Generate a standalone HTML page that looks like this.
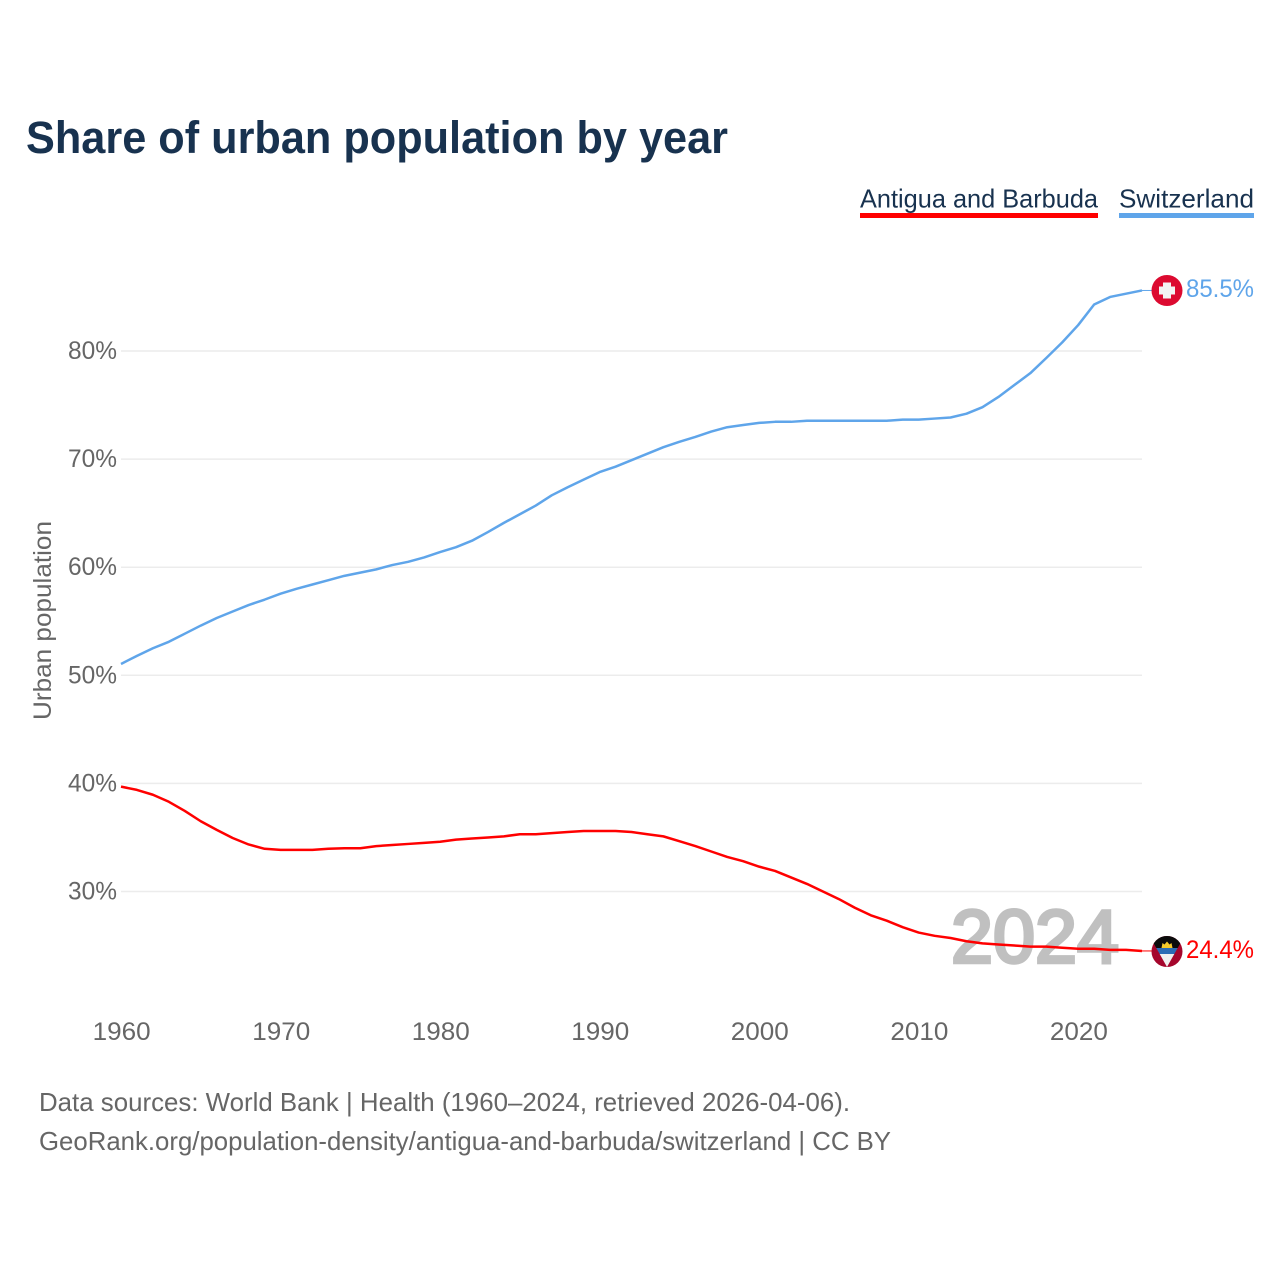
<!DOCTYPE html>
<html lang="en">
<head>
<meta charset="utf-8">
<title>Share of urban population by year</title>
<style>
html,body{margin:0;padding:0;background:#fff;}
svg{display:block;font-family:"Liberation Sans",sans-serif;}
</style>
</head>
<body>
<svg id="chart" xmlns="http://www.w3.org/2000/svg" width="1280" height="1280" viewBox="0 0 1280 1280">
  <rect width="1280" height="1280" fill="#fff"/>
  <text x="26" y="153" font-size="45" font-weight="700" fill="#18324f" textLength="702" lengthAdjust="spacingAndGlyphs">Share of urban population by year</text>
  <g>
    <g>
      <text x="860" y="207.5" font-size="26" fill="#18324f" textLength="238" lengthAdjust="spacingAndGlyphs">Antigua and Barbuda</text>
      <rect x="860" y="213" width="238" height="5" fill="#ff0000"/>
    </g>
    <g>
      <text x="1119" y="207.5" font-size="26" fill="#18324f" textLength="135" lengthAdjust="spacingAndGlyphs">Switzerland</text>
      <rect x="1119" y="213" width="135" height="5" fill="#5fa5ea"/>
    </g>
  </g>
  <text transform="translate(51,720) rotate(-90)" font-size="25" fill="#666" textLength="199" lengthAdjust="spacingAndGlyphs">Urban population</text>
  <g id="grid"></g>
  <g id="yticks"></g>
  <g id="xticks"></g>
  <text x="951" y="962.5" font-size="75" font-weight="400" fill="#c0c0c0" stroke="#c0c0c0" stroke-width="3.4" textLength="168" lengthAdjust="spacingAndGlyphs">2024</text>
  <g id="lines"></g>

  <g id="flag-ch">
    <circle cx="1167" cy="290.5" r="15.5" fill="#dc0a30"/>
    <rect x="1163" y="282.5" width="8" height="16" fill="#f3f3f3"/>
    <rect x="1159" y="286.5" width="16" height="8" fill="#f3f3f3"/>
  </g>
  <g id="flag-ag">
    <defs><clipPath id="ag-clip"><circle cx="1167" cy="951.5" r="15.5"/></clipPath></defs>
    <g clip-path="url(#ag-clip)">
      <rect x="1151" y="936" width="32" height="31" fill="#a5062c"/>
      <polygon points="1149.5,936 1184.5,936 1177.7,948 1156.3,948" fill="#0b0b0b"/>
      <polygon points="1156.3,948 1177.7,948 1174.3,954 1159.7,954" fill="#2b6cb5"/>
      <polygon points="1159.7,954 1174.3,954 1167,967" fill="#f0f0f0"/>
      <path d="M1161.5 948 L1162.5 943 L1164.5 944.5 L1167 941.5 L1169.5 944.5 L1171.5 943 L1172.5 948 Z" fill="#f5c92a"/>
    </g>
  </g>
  <text id="label-ch" x="1186" y="297" font-size="25" fill="#5fa5ea" textLength="68" lengthAdjust="spacingAndGlyphs"></text>
  <text id="label-ag" x="1186" y="958" font-size="25" fill="#ff0000" textLength="68" lengthAdjust="spacingAndGlyphs"></text>

  <text x="39" y="1111" font-size="26" fill="#666" textLength="811" lengthAdjust="spacingAndGlyphs">Data sources: World Bank | Health (1960–2024, retrieved 2026-04-06).</text>
  <a><text x="39" y="1150" font-size="26" fill="#666" textLength="852" lengthAdjust="spacingAndGlyphs">GeoRank.org/population-density/antigua-and-barbuda/switzerland | CC BY</text></a>
</svg>
<script>
const startYear = 1960;
const switzerland = [51.05,51.8,52.5,53.1,53.85,54.6,55.3,55.9,56.5,57.0,57.55,58.0,58.4,58.8,59.2,59.5,59.8,60.2,60.5,60.9,61.4,61.85,62.45,63.25,64.1,64.9,65.7,66.65,67.4,68.1,68.8,69.3,69.9,70.5,71.1,71.6,72.05,72.55,72.95,73.15,73.35,73.45,73.45,73.55,73.55,73.55,73.55,73.55,73.55,73.65,73.65,73.75,73.85,74.2,74.8,75.75,76.85,77.95,79.35,80.8,82.4,84.3,85.0,85.3,85.6];
const antigua = [39.7,39.4,38.95,38.3,37.45,36.5,35.7,34.95,34.35,33.95,33.85,33.85,33.85,33.95,34.0,34.0,34.2,34.3,34.4,34.5,34.6,34.8,34.9,35.0,35.1,35.3,35.3,35.4,35.5,35.6,35.6,35.6,35.5,35.3,35.1,34.65,34.2,33.7,33.2,32.8,32.3,31.9,31.3,30.7,30.0,29.3,28.5,27.8,27.3,26.7,26.2,25.9,25.7,25.4,25.2,25.1,25.0,24.9,24.9,24.8,24.7,24.7,24.6,24.6,24.5];
const yTicks = [30,40,50,60,70,80];
const xTicks = [1960,1970,1980,1990,2000,2010,2020];
const lastValueLabels = ["85.5%","24.4%"];

const NS = 'http://www.w3.org/2000/svg';
function xScale(year){ return 121 + (year - 1960) * (1142 - 121) / 64; }
function yScale(v){ return 351 + (80 - v) * (891.5 - 351) / 50; }

const grid = document.getElementById('grid');
const yt = document.getElementById('yticks');
yTicks.forEach(function(t){
  const l = document.createElementNS(NS,'line');
  
  
  l.setAttribute('x1', 121);
  l.setAttribute('x2', 1142);
  l.setAttribute('y1', yScale(t));
  l.setAttribute('y2', yScale(t));
  l.setAttribute('stroke', '#ececec');
  l.setAttribute('stroke-width', '1.5');
  grid.appendChild(l);
  const s = document.createElementNS(NS,'text');
  
  
  s.setAttribute('x', 117);
  s.setAttribute('y', yScale(t) + 8);
  s.setAttribute('text-anchor', 'end');
  s.setAttribute('font-size', '25');
  s.setAttribute('fill', '#666');
  s.setAttribute('textLength', '49');
  s.setAttribute('lengthAdjust', 'spacingAndGlyphs');
  s.textContent = t + '%';
  yt.appendChild(s);
});

const xt = document.getElementById('xticks');
xTicks.forEach(function(t){
  const s = document.createElementNS(NS,'text');
  
  
  s.setAttribute('x', xScale(t) + 0.7);
  s.setAttribute('y', 1040);
  s.setAttribute('text-anchor', 'middle');
  s.setAttribute('font-size', '25');
  s.setAttribute('fill', '#666');
  s.setAttribute('textLength', '58');
  s.setAttribute('lengthAdjust', 'spacingAndGlyphs');
  s.textContent = t;
  xt.appendChild(s);
});

function seriesPath(values){
  return values.map(function(v,i){
    return (i ? 'L' : 'M') + xScale(startYear + i).toFixed(2) + ' ' + yScale(v).toFixed(2);
  }).join(' ');
}
const lines = document.getElementById('lines');

const swissLine = document.createElementNS(NS,'path');


swissLine.setAttribute('d', seriesPath(switzerland));
swissLine.setAttribute('fill', 'none');
swissLine.setAttribute('stroke', '#5fa5ea');
swissLine.setAttribute('stroke-width', '2.5');
swissLine.setAttribute('stroke-linejoin', 'round');
lines.appendChild(swissLine);

const swissLeader = document.createElementNS(NS,'line');


swissLeader.setAttribute('x1', xScale(2024));
swissLeader.setAttribute('x2', 1152);
swissLeader.setAttribute('y1', yScale(switzerland[switzerland.length - 1]));
swissLeader.setAttribute('y2', yScale(switzerland[switzerland.length - 1]));
swissLeader.setAttribute('stroke', '#5fa5ea');
swissLeader.setAttribute('stroke-width', '1');
lines.appendChild(swissLeader);

const antiguaLine = document.createElementNS(NS,'path');


antiguaLine.setAttribute('d', seriesPath(antigua));
antiguaLine.setAttribute('fill', 'none');
antiguaLine.setAttribute('stroke', '#ff0000');
antiguaLine.setAttribute('stroke-width', '2.5');
antiguaLine.setAttribute('stroke-linejoin', 'round');
lines.appendChild(antiguaLine);

const antiguaLeader = document.createElementNS(NS,'line');


antiguaLeader.setAttribute('x1', xScale(2024));
antiguaLeader.setAttribute('x2', 1152);
antiguaLeader.setAttribute('y1', yScale(antigua[antigua.length - 1]));
antiguaLeader.setAttribute('y2', yScale(antigua[antigua.length - 1]));
antiguaLeader.setAttribute('stroke', '#ff0000');
antiguaLeader.setAttribute('stroke-width', '1');
lines.appendChild(antiguaLeader);

document.getElementById('label-ch').textContent = lastValueLabels[0];
document.getElementById('label-ag').textContent = lastValueLabels[1];
</script>
</body>
</html>
